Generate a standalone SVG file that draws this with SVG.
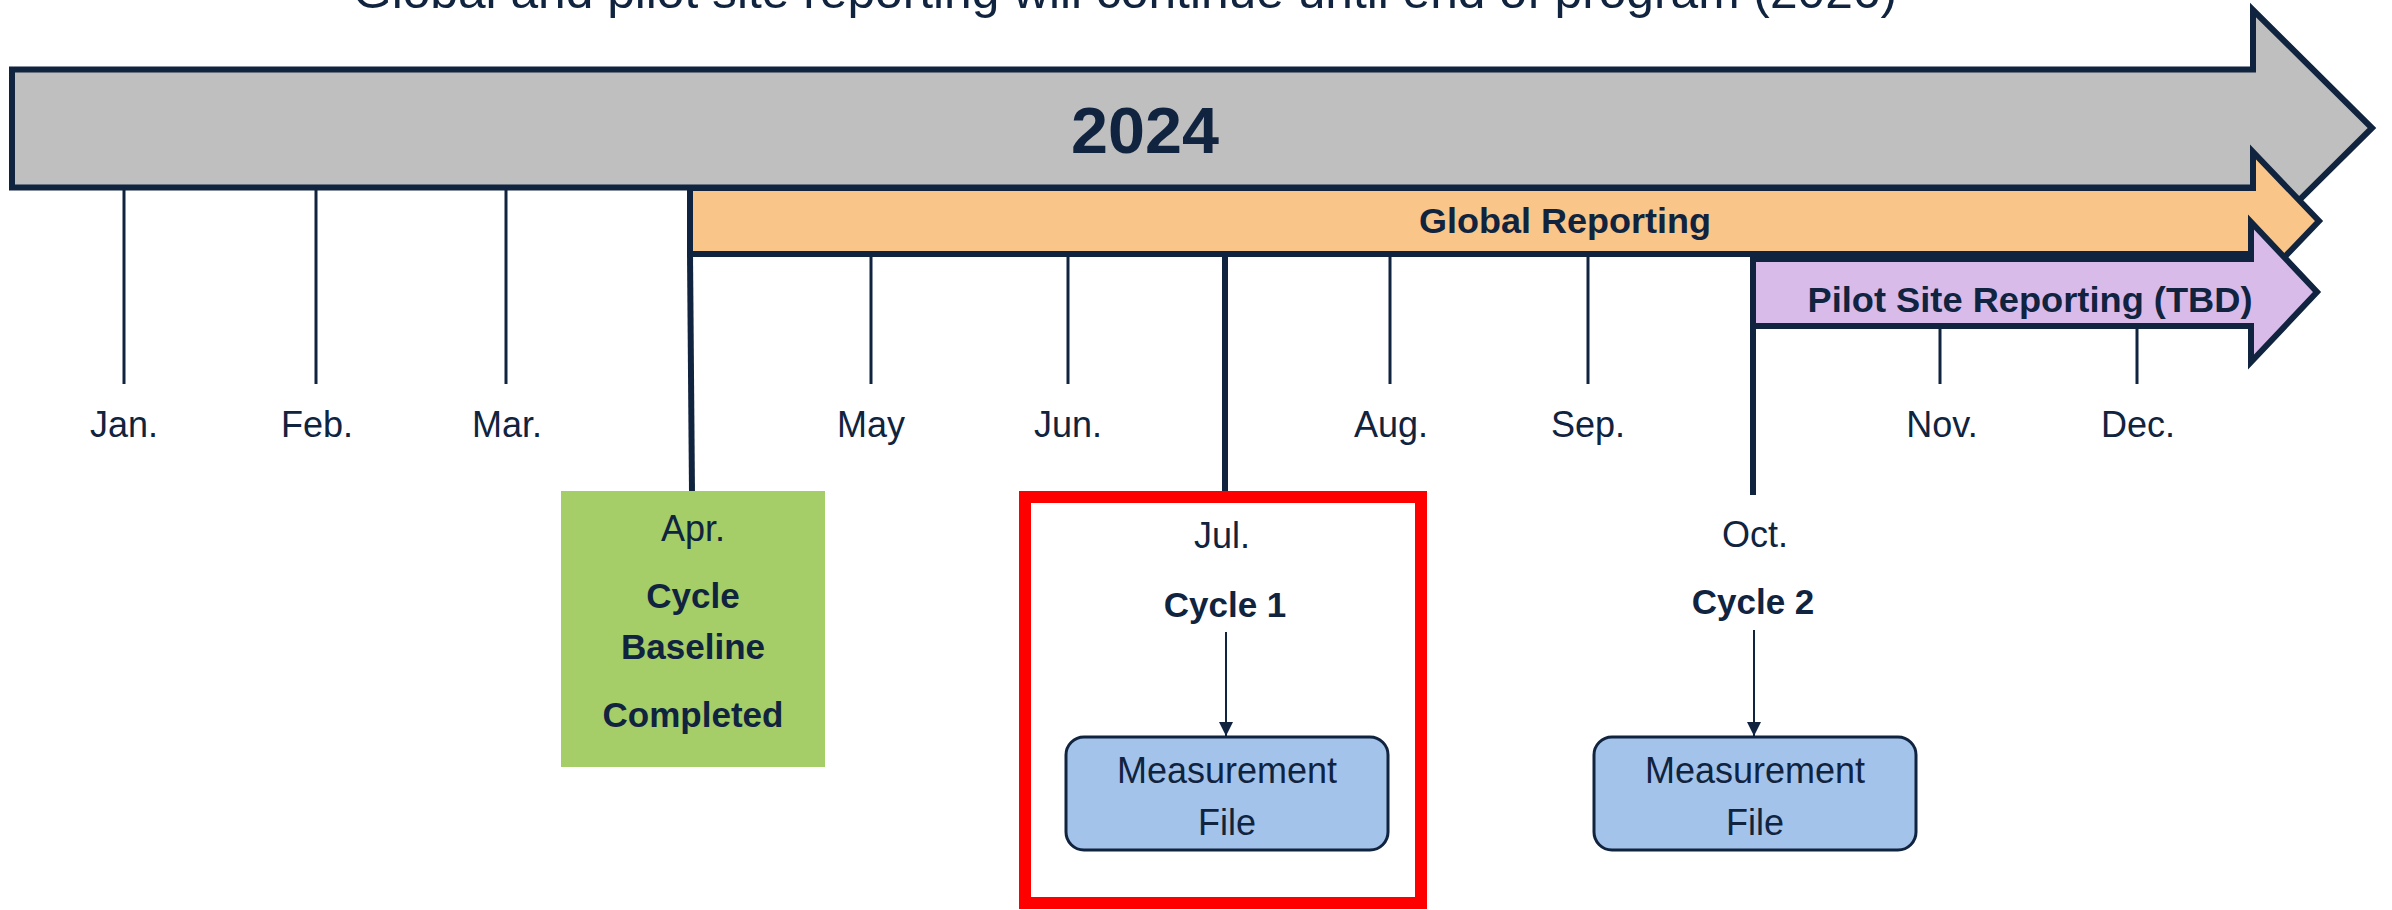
<svg xmlns="http://www.w3.org/2000/svg" width="2392" height="910" viewBox="0 0 2392 910">
  <defs>
    <marker id="ah" markerWidth="14" markerHeight="14" refX="14" refY="7" orient="auto" markerUnits="userSpaceOnUse">
      <path d="M0,0 L14,7 L0,14 Z" fill="#10233f"/>
    </marker>
    <style>
      .band { stroke: #10233f; stroke-width: 6; stroke-linejoin: miter; }
      .tick { stroke: #10233f; stroke-width: 3; fill: none; }
      .mile { stroke: #10233f; stroke-width: 6; fill: none; }
      .txt { font-family: "Liberation Sans", Arial, sans-serif; fill: #10233f; text-anchor: middle; }
      .reg { font-size: 36px; }
      .bold { font-size: 35px; font-weight: bold; }
      .conn { stroke: #10233f; stroke-width: 2; fill: none; }
      .mf { fill: #a4c3eb; stroke: #10233f; stroke-width: 3; }
    </style>
  </defs>

  <rect width="2392" height="910" fill="#ffffff"/>

  <g id="title">
    <text class="txt" x="1125" y="8" font-size="48" textLength="1544" lengthAdjust="spacingAndGlyphs">Global and pilot site reporting will continue until end of program (2026)</text>
  </g>

  <g id="arrow-2024">
    <polygon class="band" fill="#bfbfbf" points="12,69.5 2253,69.5 2253,10 2372,128 2253,246 2253,187.5 12,187.5"/>
    <text class="txt" x="1145" y="153" font-size="64" font-weight="bold" textLength="148" lengthAdjust="spacingAndGlyphs">2024</text>
  </g>

  <g id="arrow-global">
    <polygon class="band" fill="#f9c588" points="690,188 2253,188 2253,152 2319,221 2253,290 2253,254 690,254"/>
    <text class="txt bold" x="1565" y="233" textLength="292" lengthAdjust="spacingAndGlyphs">Global Reporting</text>
  </g>

  <g id="arrow-pilot">
    <polygon class="band" fill="#d9bbea" points="1753,259 2251,259 2251,222 2317,292 2251,362 2251,326 1753,326"/>
    <text class="txt bold" x="2030" y="312" textLength="445" lengthAdjust="spacingAndGlyphs">Pilot Site Reporting (TBD)</text>
  </g>

  <g id="months">
    <line class="tick" x1="124" y1="190" x2="124" y2="384"/>
    <line class="tick" x1="316" y1="190" x2="316" y2="384"/>
    <line class="tick" x1="506" y1="190" x2="506" y2="384"/>
    <line class="tick" x1="871" y1="256" x2="871" y2="384"/>
    <line class="tick" x1="1068" y1="256" x2="1068" y2="384"/>
    <line class="tick" x1="1390" y1="256" x2="1390" y2="384"/>
    <line class="tick" x1="1588" y1="256" x2="1588" y2="384"/>
    <line class="tick" x1="1940" y1="328" x2="1940" y2="384"/>
    <line class="tick" x1="2137" y1="328" x2="2137" y2="384"/>
    <text class="txt reg" x="124" y="437">Jan.</text>
    <text class="txt reg" x="317" y="437">Feb.</text>
    <text class="txt reg" x="507" y="437">Mar.</text>
    <text class="txt reg" x="871" y="437">May</text>
    <text class="txt reg" x="1068" y="437">Jun.</text>
    <text class="txt reg" x="1391" y="437">Aug.</text>
    <text class="txt reg" x="1588" y="437">Sep.</text>
    <text class="txt reg" x="1942" y="437">Nov.</text>
    <text class="txt reg" x="2138" y="437">Dec.</text>
  </g>

  <g id="milestones">
    <line class="mile" x1="690" y1="254" x2="692" y2="493"/>
    <line class="mile" x1="1225" y1="254" x2="1225" y2="492"/>
    <line class="mile" x1="1753" y1="259" x2="1753" y2="495"/>
  </g>

  <g id="node-apr">
    <rect x="561" y="491" width="264" height="276" fill="#a5cd68"/>
    <text class="txt reg" x="693" y="541">Apr.</text>
    <text class="txt bold" x="693" y="608">Cycle</text>
    <text class="txt bold" x="693" y="659">Baseline</text>
    <text class="txt bold" x="693" y="727">Completed</text>
  </g>

  <g id="node-jul">
    <rect x="1025" y="497" width="396" height="406" fill="none" stroke="#ff0000" stroke-width="12"/>
    <text class="txt reg" x="1222" y="548">Jul.</text>
    <text class="txt bold" x="1225" y="617">Cycle 1</text>
  </g>

  <g id="node-oct">
    <text class="txt reg" x="1755" y="547">Oct.</text>
    <text class="txt bold" x="1753" y="614">Cycle 2</text>
  </g>

  <g id="node-mf1">
    <rect class="mf" x="1066" y="737" width="322" height="113" rx="18" ry="18"/>
    <text class="txt reg" x="1227" y="783">Measurement</text>
    <text class="txt reg" x="1227" y="835">File</text>
  </g>

  <g id="node-mf2">
    <rect class="mf" x="1594" y="737" width="322" height="113" rx="18" ry="18"/>
    <text class="txt reg" x="1755" y="783">Measurement</text>
    <text class="txt reg" x="1755" y="835">File</text>
  </g>

  <g id="connectors">
    <line class="conn" x1="1226" y1="632" x2="1226" y2="736" marker-end="url(#ah)"/>
    <line class="conn" x1="1754" y1="630" x2="1754" y2="736" marker-end="url(#ah)"/>
  </g>
</svg>
